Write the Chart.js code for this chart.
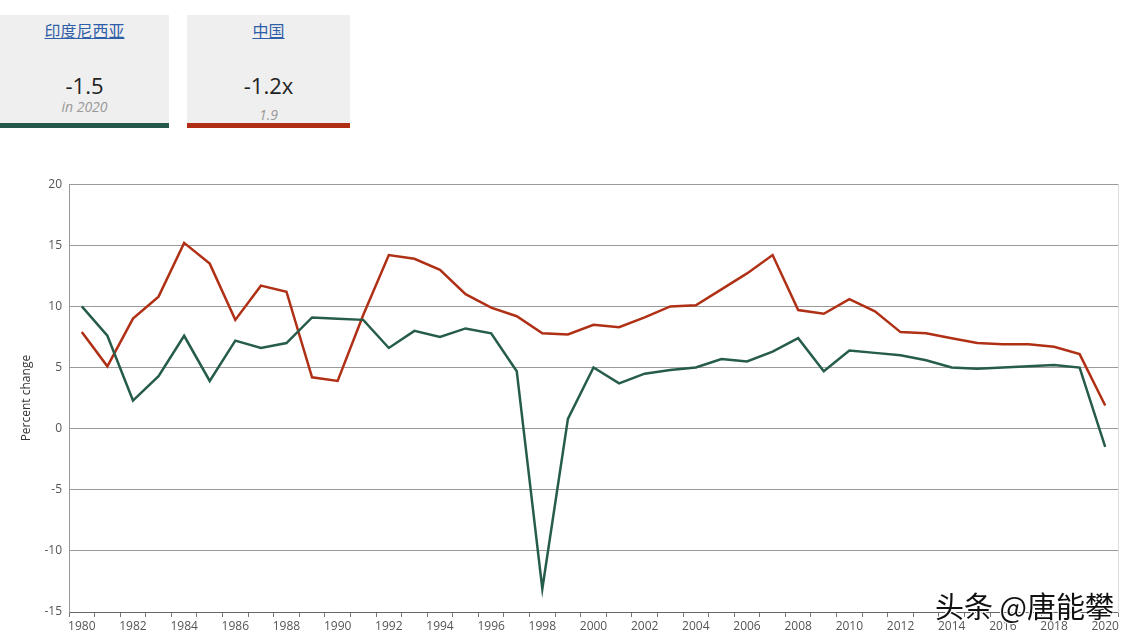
<!DOCTYPE html>
<html>
<head>
<meta charset="utf-8">
<script src="https://cdn.jsdelivr.net/npm/chart.js@4"></script>
<style>
    body { margin: 0; background: #fff; font-family: "Open Sans", "Noto Sans CJK SC", sans-serif; }
    .card { position: absolute; top: 15px; height: 108px; background: #efefef; border-bottom: 5px solid; }
    .card .name { position: absolute; top: 3px; width: 100%; text-align: center; font-size: 16px; color: #2f5ea8; text-decoration: underline; font-family: "Noto Sans CJK SC", sans-serif; }
    .card .value { position: absolute; top: 55px; width: 100%; text-align: center; font-size: 22px; color: #222; }
    .card .sub { position: absolute; width: 100%; text-align: center; font-size: 14px; font-style: italic; color: #999; }
    .chart-box { position: absolute; left: 0; top: 170px; width: 1133px; height: 468px; }
    .mark { position: absolute; left: 935px; top: 584px; font-size: 29px; color: #111; font-family: "Noto Sans CJK SC", sans-serif;
            text-shadow: -1px -1px 0 #fff, 1px -1px 0 #fff, -1px 1px 0 #fff, 1px 1px 0 #fff; }
</style>
</head>
<body>
<div class="card" style="left:0;width:169px;border-color:#24584a;">
    <div class="name">印度尼西亚</div>
    <div class="value">-1.5</div>
    <div class="sub" style="top:82px;">in 2020</div>
</div>
<div class="card" style="left:187px;width:163px;border-color:#b02e14;">
    <div class="name">中国</div>
    <div class="value">-1.2x</div>
    <div class="sub" style="top:90px;">1.9</div>
</div>
<div class="chart-box"><canvas class="line-chart"></canvas></div>
<div class="mark">头条 @唐能攀</div>

<script>
const years = [];
for (let y = 1980; y <= 2020; y++) years.push(y);

// GDP growth, percent change
const indonesia = [10.0, 7.6, 2.3, 4.3, 7.6, 3.9, 7.2, 6.6, 7.0, 9.1,
    9.0, 8.9, 6.6, 8.0, 7.5, 8.2, 7.8, 4.7, -13.1, 0.8,
    5.0, 3.7, 4.5, 4.8, 5.0, 5.7, 5.5, 6.3, 7.4, 4.7,
    6.4, 6.2, 6.0, 5.6, 5.0, 4.9, 5.0, 5.1, 5.2, 5.0, -1.5];
const china = [7.9, 5.1, 9.0, 10.8, 15.2, 13.5, 8.9, 11.7, 11.2, 4.2,
    3.9, 9.3, 14.2, 13.9, 13.0, 11.0, 9.9, 9.2, 7.8, 7.7,
    8.5, 8.3, 9.1, 10.0, 10.1, 11.4, 12.7, 14.2, 9.7, 9.4,
    10.6, 9.6, 7.9, 7.8, 7.4, 7.0, 6.9, 6.9, 6.7, 6.1, 1.9];
const yTicks = [-15, -10, -5, 0, 5, 10, 15, 20];

const ctx = document.querySelector('.line-chart').getContext('2d');

new Chart(ctx, {
    type: 'line',
    data: {
        labels: years,
        datasets: [{
            label: '印度尼西亚',
            data: indonesia,
            borderColor: 'rgb(38,92,74)',
            borderWidth: 2.5,
            pointRadius: 0,
            tension: 0
        }, {
            label: '中国',
            data: china,
            borderColor: 'rgb(176,48,22)',
            borderWidth: 2.5,
            pointRadius: 0,
            tension: 0
        }]
    },
    options: {
        responsive: true,
        maintainAspectRatio: false,
        animation: false,
        layout: {
            padding: { top: 0, right: 15, left: 0, bottom: 0 }
        },
        scales: {
            x: {
                offset: true,
                afterFit: (scale) => { scale.height = 26; },
                grid: {
                    offset: true,
                    drawOnChartArea: false,
                    tickLength: 5,
                    color: '#777'
                },
                border: { color: '#666' },
                ticks: {
                    autoSkip: false,
                    maxRotation: 0,
                    padding: 2,
                    color: '#555',
                    font: { family: 'Open Sans', size: 12 },
                    callback: (val, i) => years[i] % 2 === 0 ? years[i] : ''
                }
            },
            y: {
                min: -15,
                max: 20,
                afterFit: (scale) => { scale.width = 69; },
                afterBuildTicks: (scale) => { scale.ticks = yTicks.map(v => ({ value: v })); },
                grid: {
                    color: '#9a9a9a',
                    drawTicks: false
                },
                border: { color: '#999' },
                ticks: {
                    padding: 7,
                    color: '#555',
                    font: { family: 'Open Sans', size: 12 }
                },
                title: {
                    display: true,
                    text: 'Percent change',
                    color: '#333',
                    padding: { top: 19, bottom: 0 },
                    font: { family: 'Open Sans', size: 12 }
                }
            },
            y2: {
                position: 'right',
                min: -15,
                max: 20,
                afterFit: (scale) => { scale.width = 0; },
                grid: { drawOnChartArea: false, drawTicks: false },
                border: { color: '#ddd' },
                ticks: { display: false }
            }
        },
        plugins: {
            legend: { display: false },
            tooltip: { enabled: true }
        }
    }
});
</script>
</body>
</html>
